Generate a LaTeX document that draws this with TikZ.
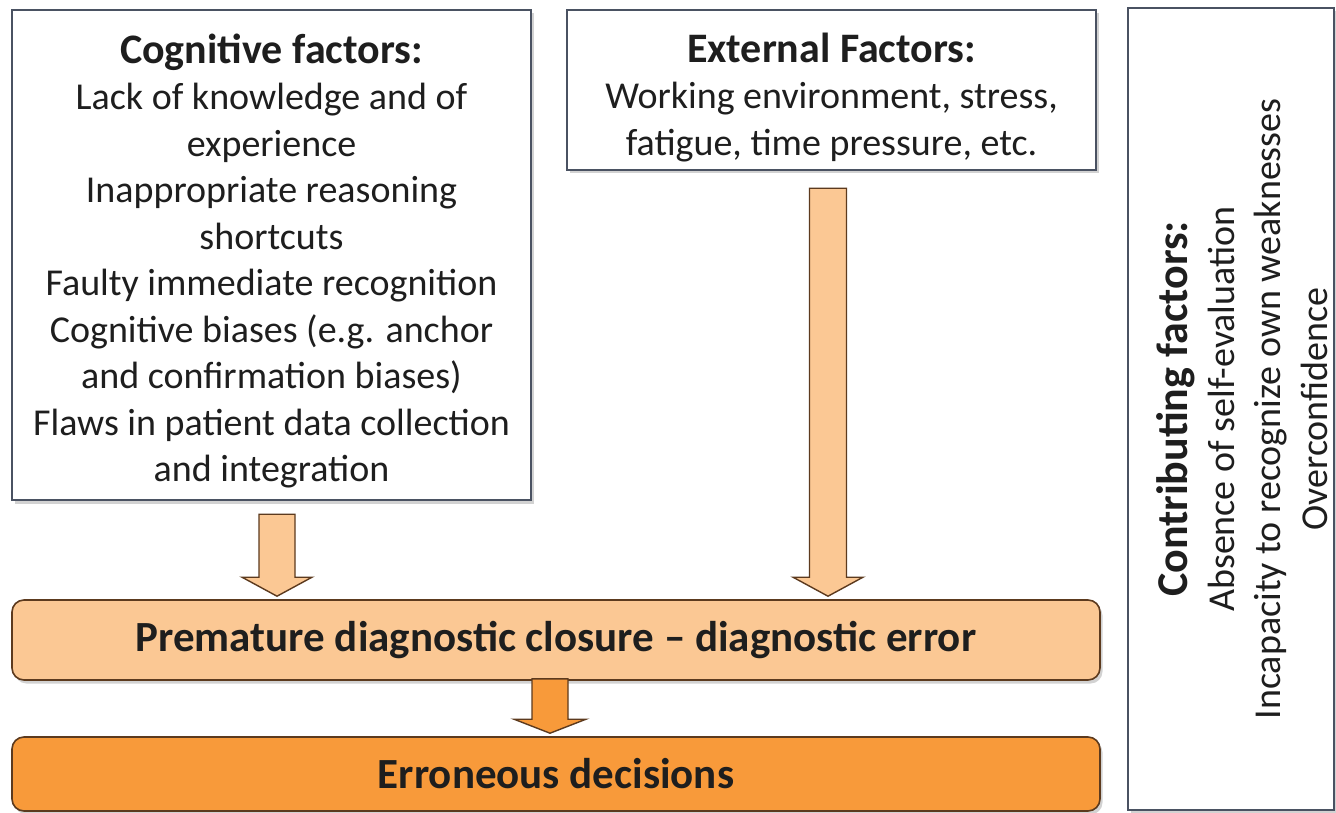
\documentclass[tikz,border=0pt]{standalone}
\usepackage{fontspec}
\setmainfont{Carlito}
\usetikzlibrary{calc,shadows}
\definecolor{boxline}{HTML}{4A5262}
\definecolor{lightor}{HTML}{FBC894}
\definecolor{darkor}{HTML}{F89A3A}
\definecolor{arrline}{HTML}{5C3A1E}
\definecolor{txt}{HTML}{1E1E1E}
\newcommand\blkarrow[6]{%
  \filldraw[blk,fill=#6] let \p1=(#1), \p2=(#2) in
    (\x1-#3pt,\y1) -- (\x1+#3pt,\y1) -- (\x1+#3pt,\y2+#5pt) -- (\x1+#4pt,\y2+#5pt)
    -- (\x1,\y2) -- (\x1-#4pt,\y2+#5pt) -- (\x1-#3pt,\y2+#5pt) -- cycle;}
\newcommand\ttlfont{\fontsize{42}{49}\selectfont\bfseries}
\begin{document}
\begin{tikzpicture}[x=1pt,y=-1pt,
  shadowed/.style={drop shadow={shadow xshift=2.5pt,shadow yshift=-3.5pt,opacity=0.35}},
  fbox/.style={draw=boxline,line width=2.5pt,fill=white,shadowed,inner sep=0pt},
  btxt/.style={align=center,text=txt,inner sep=0pt,font=\fontsize{38}{46.5}\selectfont},
  obox/.style={draw=arrline,line width=1.6pt,rounded corners=12pt,shadowed,inner sep=0pt,
    text=txt,font=\fontsize{43}{46}\selectfont\bfseries},
  blk/.style={draw=arrline,line width=1.4pt,line join=miter}]
\useasboundingbox[fill=white] (0,0) rectangle (1336,813);

\node[fbox,minimum width=519pt,minimum height=490pt] (cog) at (271.5,255) {};
\node[btxt,anchor=north] (cogtxt) at ($(cog.north)+(0,25)$)
  {{\ttlfont Cognitive factors:}\\
   Lack of knowledge and of\\experience\\Inappropriate reasoning\\shortcuts\\
   Faulty immediate recognition\\Cognitive biases (e.g. anchor\\and confirmation biases)\\
   Flaws in patient data collection\\and integration};

\node[fbox,minimum width=529pt,minimum height=160pt] (ext) at (831.5,90) {};
\node[btxt,anchor=north] (exttxt) at ($(ext.north)+(0,24)$)
  {{\ttlfont External Factors:}\\
   Working environment, stress,\\fatigue, time pressure, etc.};

\node[fbox,minimum width=206pt,minimum height=802pt] (con) at (1231,409) {};
\node[btxt,rotate=90] (contxt) at (1242,409)
  {{\fontsize{44}{46.5}\selectfont\bfseries Contributing factors:}\\
   Absence of self-evaluation\\Incapacity to recognize own weaknesses\\Overconfidence};

\node[obox,fill=lightor,minimum width=1088pt,minimum height=80pt] (pre) at (556,640)
  {Premature diagnostic closure -- diagnostic error};
\node[obox,fill=darkor,minimum width=1088pt,minimum height=74pt] (err) at (556,774)
  {Erroneous decisions};

\coordinate (a1s) at ($(cog.south)+(5.5,13)$);
\coordinate (a1e) at ($(a1s |- pre.north)+(0,-3)$);
\coordinate (a2s) at ($(ext.south)+(-3.5,17)$);
\coordinate (a2e) at ($(a2s |- pre.north)+(0,-3)$);
\coordinate (a3s) at ($(pre.south)+(-6,-2)$);
\coordinate (a3e) at ($(a3s |- err.north)+(0,-3)$);

\blkarrow{a1s}{a1e}{18}{35}{19}{lightor}
\blkarrow{a2s}{a2e}{18.5}{35}{19}{lightor}
\blkarrow{a3s}{a3e}{18}{36}{14}{darkor}
\end{tikzpicture}
\end{document}
